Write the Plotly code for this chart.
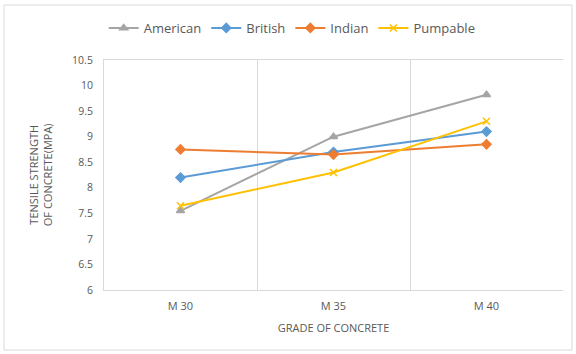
import plotly.graph_objects as go

grades = ["M 30", "M 35", "M 40"]
american = [7.55, 9.0, 9.82]
british = [8.2, 8.7, 9.1]
indian = [8.75, 8.65, 8.85]
pumpable = [7.65, 8.3, 9.3]

series = [
    ("American", american, "#A5A5A5", "triangle-up"),
    ("British", british, "#5B9BD5", "diamond"),
    ("Indian", indian, "#ED7D31", "diamond"),
    ("Pumpable", pumpable, "#FFC000", "x-thin"),
]

fig = go.Figure()
for name, vals, color, sym in series:
    fig.add_trace(go.Scatter(
        x=grades, y=vals, name=name, mode="lines+markers",
        line=dict(color=color, width=2),
        marker=dict(symbol=sym, size=7, color=color,
                    line=dict(color=color, width=1.5)),
    ))

font_color = "#595959"
fig.update_layout(
    width=576, height=354,
    margin=dict(l=104, r=13, t=60, b=64),
    paper_bgcolor="white", plot_bgcolor="white",
    font=dict(family="Open Sans, Liberation Sans, sans-serif", size=10, color=font_color),
    showlegend=True,
    legend=dict(orientation="h", x=0.41, xanchor="center", y=1.139, yanchor="middle",
                font=dict(size=13, color=font_color), tracegroupgap=0),
    xaxis=dict(type="category", tickson="boundaries", range=[-0.5, 2.5],
               showgrid=True, gridcolor="#D9D9D9",
               gridwidth=1, showline=True, linecolor="#D9D9D9",
               ticks="", ticklabelstandoff=6, zeroline=False,
               title=dict(text="GRADE OF CONCRETE", font=dict(size=11, color=font_color), standoff=12),
               tickfont=dict(size=11, color=font_color), mirror=True),
    yaxis=dict(range=[6, 10.5], dtick=0.5, showgrid=False, zeroline=False,
               showline=True, linecolor="#D9D9D9",
               ticks="outside", ticklen=8, tickcolor="rgba(0,0,0,0)",
               tickfont=dict(size=10.5, color=font_color)),
    annotations=[dict(text="TENSILE STRENGTH<br>OF CONCRETE(MPA)", xref="paper", yref="paper",
                      x=-0.139, y=0.5, xanchor="center", yanchor="middle", textangle=-90,
                      align="center", showarrow=False, font=dict(size=11, color=font_color))],
    shapes=[dict(type="rect", xref="paper", yref="paper",
                 x0=-0.2179, x1=1.0196, y0=-0.261, y1=1.239,
                 line=dict(color="#D9D9D9", width=1), layer="below")],
)

fig.write_html("out.html")
